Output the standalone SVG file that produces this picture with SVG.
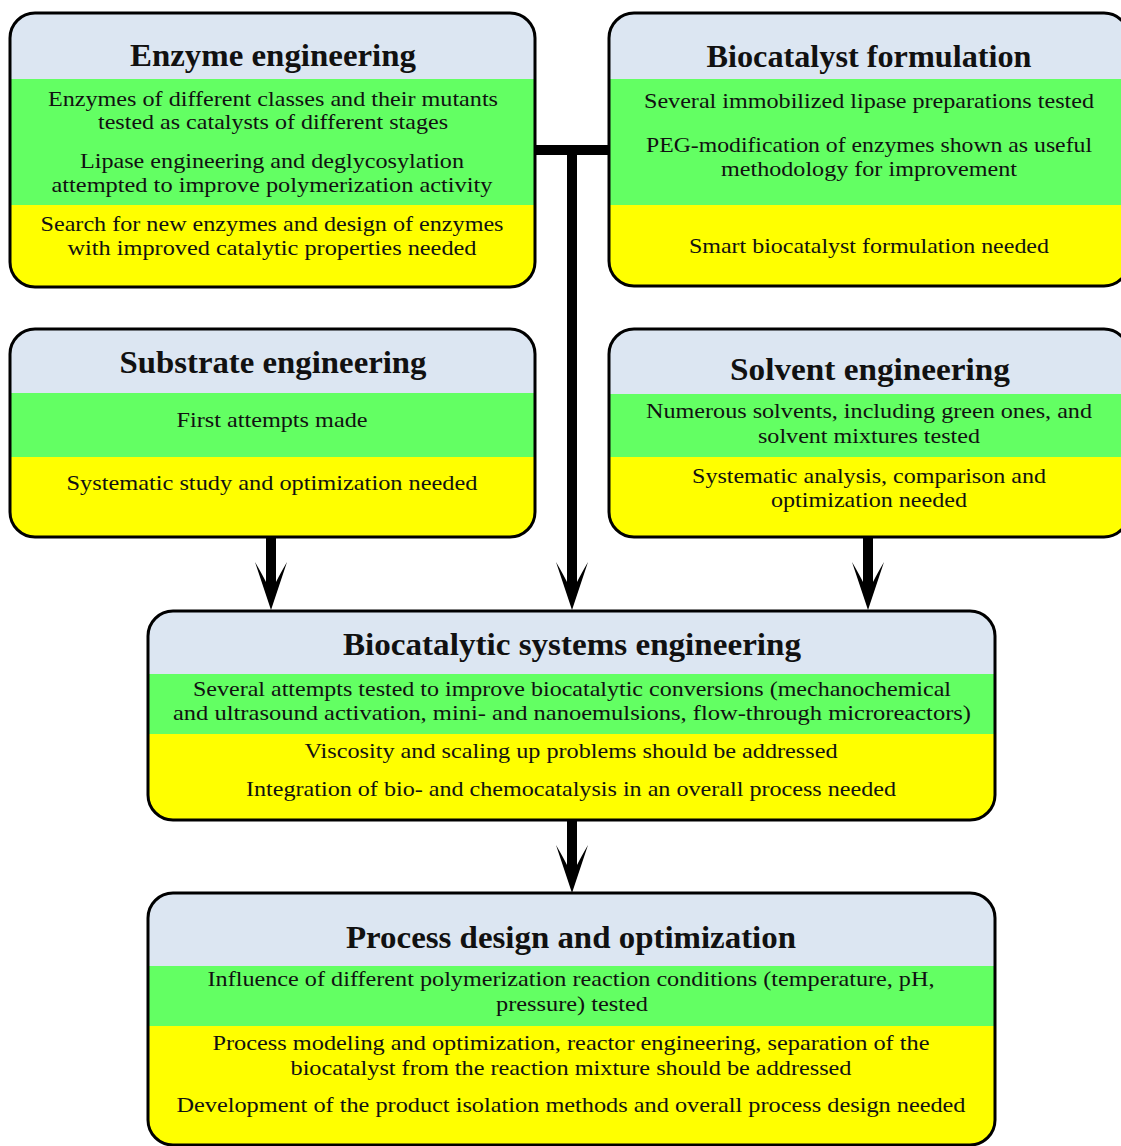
<svg xmlns="http://www.w3.org/2000/svg" xmlns:xlink="http://www.w3.org/1999/xlink" width="1121" height="1146" viewBox="0 0 1121 1146">
<style>
.hd{fill:#dce6f2}
.gr{fill:#63ff63}
.ye{fill:#ffff00}
.frame{fill:none;stroke:#000;stroke-width:3}
.t{font-family:"Liberation Serif","Times New Roman",serif;font-weight:bold;font-size:31px;fill:#111;text-anchor:middle}
.b{font-family:"Liberation Serif","Times New Roman",serif;font-size:21.5px;fill:#111;text-anchor:middle}
.conn{stroke:#000;stroke-width:10;fill:none}
</style>
<defs>
<marker id="ah" markerUnits="userSpaceOnUse" viewBox="-48 -17 48 34" refX="-26" refY="0" markerWidth="48" markerHeight="34" orient="auto">
<path d="M0,0 L-48,-16 Q-36,-9 -28,-5 L-28,5 Q-36,9 -48,16 Z" fill="#000"/>
</marker>
<clipPath id="c1"><rect x="10" y="13" width="525" height="274" rx="25"/></clipPath>
<clipPath id="c2"><rect x="609" y="13" width="520" height="273" rx="25"/></clipPath>
<clipPath id="c3"><rect x="10" y="329" width="525" height="208" rx="25"/></clipPath>
<clipPath id="c4"><rect x="609" y="329" width="520" height="208" rx="25"/></clipPath>
<clipPath id="c5"><rect x="148" y="611" width="847" height="209" rx="25"/></clipPath>
<clipPath id="c6"><rect x="148" y="893" width="847" height="252" rx="25"/></clipPath>
</defs>

<g id="connectors">
<line class="conn" x1="534" y1="150" x2="611" y2="150"/>
<line class="conn" x1="572" y1="145" x2="572" y2="584" marker-end="url(#ah)"/>
<line class="conn" x1="271" y1="537" x2="271" y2="584" marker-end="url(#ah)"/>
<line class="conn" x1="868" y1="537" x2="868" y2="584" marker-end="url(#ah)"/>
<line class="conn" x1="572" y1="820" x2="572" y2="867" marker-end="url(#ah)"/>
</g>

<g id="enzyme-engineering">
<g clip-path="url(#c1)">
<rect class="hd" x="10" y="13" width="525" height="66"/>
<rect class="gr" x="10" y="79" width="525" height="126"/>
<rect class="ye" x="10" y="205" width="525" height="82"/>
</g>
<rect class="frame" x="10" y="13" width="525" height="274" rx="25"/>
<text class="t" x="273" y="66" textLength="286" lengthAdjust="spacingAndGlyphs">Enzyme engineering</text>
<text class="b" x="273" y="106" textLength="450" lengthAdjust="spacingAndGlyphs">Enzymes of different classes and their mutants</text>
<text class="b" x="273" y="129" textLength="350" lengthAdjust="spacingAndGlyphs">tested as catalysts of different stages</text>
<text class="b" x="272" y="168" textLength="384" lengthAdjust="spacingAndGlyphs">Lipase engineering and deglycosylation</text>
<text class="b" x="272" y="192" textLength="441" lengthAdjust="spacingAndGlyphs">attempted to improve polymerization activity</text>
<text class="b" x="272" y="231" textLength="463" lengthAdjust="spacingAndGlyphs">Search for new enzymes and design of enzymes</text>
<text class="b" x="272" y="255" textLength="409" lengthAdjust="spacingAndGlyphs">with improved catalytic properties needed</text>
</g>

<g id="biocatalyst-formulation">
<g clip-path="url(#c2)">
<rect class="hd" x="609" y="13" width="520" height="66"/>
<rect class="gr" x="609" y="79" width="520" height="126"/>
<rect class="ye" x="609" y="205" width="520" height="81"/>
</g>
<rect class="frame" x="609" y="13" width="520" height="273" rx="25"/>
<text class="t" x="869" y="67" textLength="325" lengthAdjust="spacingAndGlyphs">Biocatalyst formulation</text>
<text class="b" x="869" y="108" textLength="450" lengthAdjust="spacingAndGlyphs">Several immobilized lipase preparations tested</text>
<text class="b" x="869" y="152" textLength="446" lengthAdjust="spacingAndGlyphs">PEG-modification of enzymes shown as useful</text>
<text class="b" x="869" y="176" textLength="296" lengthAdjust="spacingAndGlyphs">methodology for improvement</text>
<text class="b" x="869" y="253" textLength="360" lengthAdjust="spacingAndGlyphs">Smart biocatalyst formulation needed</text>
</g>

<g id="substrate-engineering">
<g clip-path="url(#c3)">
<rect class="hd" x="10" y="329" width="525" height="64"/>
<rect class="gr" x="10" y="393" width="525" height="64"/>
<rect class="ye" x="10" y="457" width="525" height="80"/>
</g>
<rect class="frame" x="10" y="329" width="525" height="208" rx="25"/>
<text class="t" x="273" y="373" textLength="307" lengthAdjust="spacingAndGlyphs">Substrate engineering</text>
<text class="b" x="272" y="427" textLength="191" lengthAdjust="spacingAndGlyphs">First attempts made</text>
<text class="b" x="272" y="490" textLength="411" lengthAdjust="spacingAndGlyphs">Systematic study and optimization needed</text>
</g>

<g id="solvent-engineering">
<g clip-path="url(#c4)">
<rect class="hd" x="609" y="329" width="520" height="65"/>
<rect class="gr" x="609" y="394" width="520" height="63"/>
<rect class="ye" x="609" y="457" width="520" height="80"/>
</g>
<rect class="frame" x="609" y="329" width="520" height="208" rx="25"/>
<text class="t" x="870" y="380" textLength="280" lengthAdjust="spacingAndGlyphs">Solvent engineering</text>
<text class="b" x="869" y="418" textLength="446" lengthAdjust="spacingAndGlyphs">Numerous solvents, including green ones, and</text>
<text class="b" x="869" y="443" textLength="222" lengthAdjust="spacingAndGlyphs">solvent mixtures tested</text>
<text class="b" x="869" y="483" textLength="354" lengthAdjust="spacingAndGlyphs">Systematic analysis, comparison and</text>
<text class="b" x="869" y="507" textLength="196" lengthAdjust="spacingAndGlyphs">optimization needed</text>
</g>

<g id="biocatalytic-systems-engineering">
<g clip-path="url(#c5)">
<rect class="hd" x="148" y="611" width="847" height="63"/>
<rect class="gr" x="148" y="674" width="847" height="60"/>
<rect class="ye" x="148" y="734" width="847" height="86"/>
</g>
<rect class="frame" x="148" y="611" width="847" height="209" rx="25"/>
<text class="t" x="572" y="655" textLength="458" lengthAdjust="spacingAndGlyphs">Biocatalytic systems engineering</text>
<text class="b" x="572" y="696" textLength="758" lengthAdjust="spacingAndGlyphs">Several attempts tested to improve biocatalytic conversions (mechanochemical</text>
<text class="b" x="572" y="720" textLength="798" lengthAdjust="spacingAndGlyphs">and ultrasound activation, mini- and nanoemulsions, flow-through microreactors)</text>
<text class="b" x="571" y="758" textLength="533" lengthAdjust="spacingAndGlyphs">Viscosity and scaling up problems should be addressed</text>
<text class="b" x="571" y="796" textLength="650" lengthAdjust="spacingAndGlyphs">Integration of bio- and chemocatalysis in an overall process needed</text>
</g>

<g id="process-design-and-optimization">
<g clip-path="url(#c6)">
<rect class="hd" x="148" y="893" width="847" height="73"/>
<rect class="gr" x="148" y="966" width="847" height="60"/>
<rect class="ye" x="148" y="1026" width="847" height="119"/>
</g>
<rect class="frame" x="148" y="893" width="847" height="252" rx="25"/>
<text class="t" x="571" y="948" textLength="450" lengthAdjust="spacingAndGlyphs">Process design and optimization</text>
<text class="b" x="571" y="986" textLength="727" lengthAdjust="spacingAndGlyphs">Influence of different polymerization reaction conditions (temperature, pH,</text>
<text class="b" x="572" y="1011" textLength="152" lengthAdjust="spacingAndGlyphs">pressure) tested</text>
<text class="b" x="571" y="1050" textLength="717" lengthAdjust="spacingAndGlyphs">Process modeling and optimization, reactor engineering, separation of the</text>
<text class="b" x="571" y="1075" textLength="561" lengthAdjust="spacingAndGlyphs">biocatalyst from the reaction mixture should be addressed</text>
<text class="b" x="571" y="1112" textLength="789" lengthAdjust="spacingAndGlyphs">Development of the product isolation methods and overall process design needed</text>
</g>
</svg>
